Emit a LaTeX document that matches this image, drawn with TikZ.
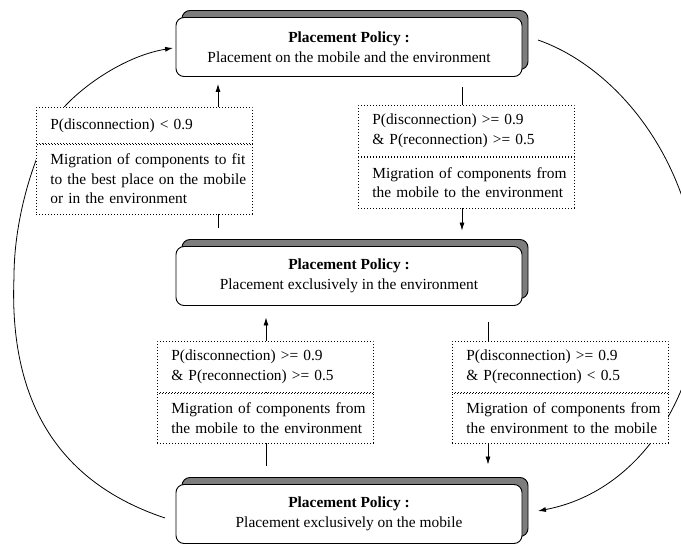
\documentclass[tikz,border=0pt]{standalone}
\usepackage{fontspec}
\setmainfont{Liberation Serif}
\usetikzlibrary{shadows,arrows.meta,calc}
\definecolor{shadowgray}{RGB}{125,125,125}
\newcommand{\oneline}[1]{\mbox{#1}}
\begin{document}
\begin{tikzpicture}[x=1pt,y=-1pt,
  every node/.style={font=\fontsize{15.4}{19.5}\selectfont},
  policy/.style={draw, line width=0.9pt, rounded corners=8pt, fill=white,
    minimum width=346pt, minimum height=59pt, align=center, inner sep=0pt,
    font=\fontsize{15.4}{20.5}\selectfont,
    copy shadow={shadow xshift=6pt, shadow yshift=7pt, fill=shadowgray, draw=black, line width=0.9pt}},
  cond/.style={draw, dash pattern=on 0.7pt off 2.3pt, line width=0.7pt, fill=white,
    text width=188pt, inner xsep=14pt, inner ysep=0pt, align=left, anchor=north west},
  link/.style={line width=0.8pt},
  arr/.style={link, -{Latex[length=8pt,width=5pt]}}
]
\clip (0,0) rectangle (681,544);
\fill[white] (0,0) rectangle (681,544);

% policy boxes
\node[policy] (A) at (349,47) {\textbf{Placement Policy :}\\Placement on the mobile and the environment};
\node[policy] (B) at (349,276) {\textbf{Placement Policy :}\\Placement exclusively in the environment};
\node[policy] (C) at (349,514) {\textbf{Placement Policy :}\\Placement exclusively on the mobile};

% x positions of the vertical connectors
\coordinate (xa) at (218,0);
\coordinate (xb) at (462,0);
\coordinate (xc) at (266,0);
\coordinate (xd) at (488,0);

% vertical connectors (run behind the condition boxes)
\draw[arr, shorten <=18.5pt, shorten >=7pt] (B.north -| xa) -- (A.south -| xa);
\draw[arr, shorten <=10pt, shorten >=15.5pt] (A.south -| xb) -- (B.north -| xb);
\draw[arr, shorten <=18.5pt, shorten >=11.5pt] (C.north -| xc) -- (B.south -| xc);
\draw[arr, shorten <=16.5pt, shorten >=19.5pt] (B.south -| xd) -- (C.north -| xd);

% outer curves
\draw[arr] ([shift={(-10.5,4)}]C.west) .. controls (75,488) and (8,420) .. (14,277)
  .. controls (14,210) and (40,135) .. (66,105)
  .. controls (90,80) and (130,55) .. ([shift={(-2.5,1)}]A.west);
\draw[arr] ([shift={(15.5,-7)}]A.east) .. controls (610,65) and (690,150) .. (700,283)
  .. controls (705,380) and (648,490) .. ([shift={(15.5,-3)}]C.east);

% condition boxes
\node[cond, minimum height=36pt] (D1t) at (36,107) {P(disconnection) < 0.9};
\node[cond, minimum height=70pt] (D1b) at (D1t.south west) {\oneline{Migration of components to fit}\\\oneline{to the best place on the mobile}\\or in the environment};

\node[cond, minimum height=51pt] (D2t) at (358,105) {P(disconnection) >= 0.9\\\& P(reconnection) >= 0.5};
\node[cond, minimum height=51pt] (D2b) at (D2t.south west) {\oneline{Migration of components from}\\\oneline{the mobile to the environment}};

\node[cond, minimum height=51pt] (D3t) at (157,341) {P(disconnection) >= 0.9\\\& P(reconnection) >= 0.5};
\node[cond, minimum height=50pt] (D3b) at (D3t.south west) {\oneline{Migration of components from}\\\oneline{the mobile to the environment}};

\node[cond, minimum height=51pt] (D4t) at (452,341) {P(disconnection) >= 0.9\\\& P(reconnection) < 0.5};
\node[cond, minimum height=50pt] (D4b) at (D4t.south west) {\oneline{Migration of components from}\\\oneline{the environment to the mobile}};
\end{tikzpicture}
\end{document}
